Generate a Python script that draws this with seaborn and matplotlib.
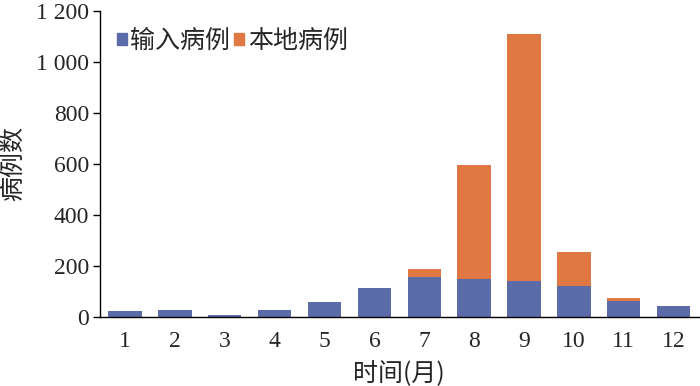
import matplotlib
matplotlib.use("Agg")
import matplotlib.pyplot as plt
import seaborn as sns
import pandas as pd
from matplotlib.patches import Patch
from matplotlib.ticker import FuncFormatter

months = ["1", "2", "3", "4", "5", "6", "7", "8", "9", "10", "11", "12"]
imported = [24, 26, 9, 27, 59, 115, 156, 148, 142, 122, 64, 42]
local = [0, 0, 0, 0, 0, 0, 32, 447, 968, 132, 9, 0]
total = [a + b for a, b in zip(imported, local)]

blue = "#5B6BA8"
orange = "#E07843"

sns.set_theme(style="white")
plt.rcParams['font.family'] = ['Liberation Serif', 'Noto Sans CJK SC']
cjk = ['Noto Sans CJK SC', 'DejaVu Sans']

df = pd.DataFrame({"month": months, "imported": imported, "local": local, "total": total})

fig = plt.figure(figsize=(7, 3.86), dpi=100)
ax = fig.add_axes([0.143, 0.179, 0.855, 0.793])

sns.barplot(data=df, x="month", y="total", color=orange, width=0.67, saturation=1, ax=ax, edgecolor="none")
sns.barplot(data=df, x="month", y="imported", color=blue, width=0.67, saturation=1, ax=ax, edgecolor="none")

ax.set_ylim(0, 1200)
ax.set_yticks(range(0, 1201, 200))
ax.yaxis.set_major_formatter(FuncFormatter(lambda v, p: f"{int(v):,}".replace(",", " ")))
ax.set_xlim(-0.5, 11.5)

for s in ["top", "right"]:
    ax.spines[s].set_visible(False)
for s in ["left", "bottom"]:
    ax.spines[s].set_color("black")
    ax.spines[s].set_linewidth(1.0)

ax.tick_params(axis="y", direction="out", length=5, width=1, color="black", labelsize=17, pad=3, left=True)
ax.tick_params(axis="x", length=0, labelsize=17, pad=10)

ax.set_ylabel("病例数", fontsize=18, family=cjk, labelpad=7)
ax.set_xlabel("时间(月)", fontsize=18, family=cjk, labelpad=7)

handles = [Patch(color=blue, label="输入病例"), Patch(color=orange, label="本地病例")]
ax.legend(handles=handles, loc="upper left", bbox_to_anchor=(-0.01, 1.017), ncol=2, frameon=False,
          handlelength=0.4, handleheight=0.4, handletextpad=0.15, columnspacing=0.15,
          prop={"family": cjk, "size": 18})

fig.savefig("out.png", dpi=100)
